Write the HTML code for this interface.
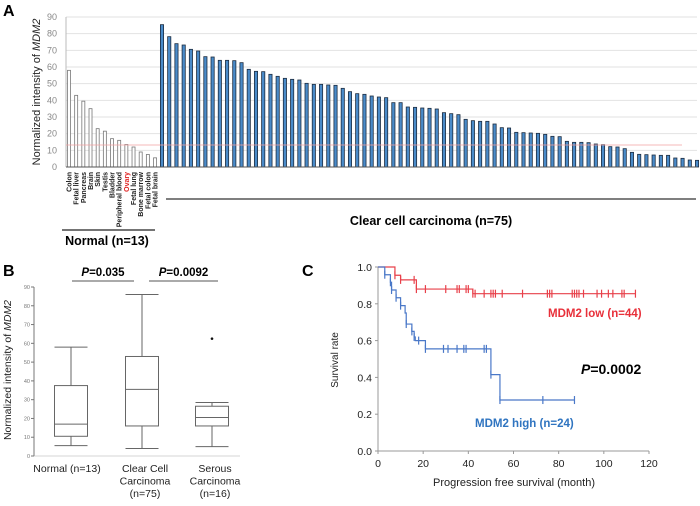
<!DOCTYPE html>
<html><head><meta charset="utf-8"><style>
body{margin:0;background:#fff}
svg{display:block;font-family:"Liberation Sans",Arial,sans-serif}
</style></head><body>
<svg width="700" height="506" viewBox="0 0 700 506">
<g id="pa"></g>
<g id="pb"></g>
<g id="pc"></g>
</svg>
<script>
const normalNames=["Colon","Fetal liver","Pancreas","Brain","Skin","Testis","Bladder","Peripheral blood","Ovary","Fetal lung","Bone marrow","Fetal colon","Fetal brain"];
const normalVals=[58,43,39.5,35,23,21.5,17,16,13.5,12,9,7.5,5.5];
const cccVals=[85.4,78.2,74,73.2,70.6,69.6,66.2,66,64,64,63.8,62.6,58.6,57.4,57.2,55.6,54.4,53.2,52.6,52.2,50.2,49.6,49.6,49.2,49,47.2,45.2,44,43.6,42.6,42,41.6,38.6,38.6,36,35.8,35.4,35.2,34.8,32.6,32,31.4,28.6,27.8,27.4,27.4,25.8,23.6,23.4,20.8,20.6,20.4,20.2,19.6,18.4,18.2,15.4,14.8,14.8,14.6,13.8,13.4,12.2,12,11,8.8,7.6,7.4,7.2,7,7,5.4,5.2,4.2,4];
const aTicks=[0,10,20,30,40,50,60,70,80,90];
const boxGroups=["Normal (n=13)","Clear Cell|Carcinoma|(n=75)","Serous|Carcinoma|(n=16)"];
const boxMin=[5.5,4,5],boxQ1=[10.5,16,16],boxMed=[17,35.5,20.5],boxQ3=[37.5,53,26.5],boxMax=[58,86,28.5];
const boxOutliers=[[],[],[62.5]];
const lowT=[0,7.5,10,17,42,114],lowS=[1,0.955,0.93,0.88,0.855,0.855];
const lowCens=[7.5,10,16,17,21,30,35,36,39,40,42,43,47,50,51,52,55,64,75,76,77,86,87,88,89,91,97,99,102,104,108,109,114];
const highT=[0,3,5.5,6,8,10,12,12.5,15,16,16.5,21,50,54,87],highS=[1,0.958,0.917,0.875,0.833,0.79,0.75,0.69,0.65,0.62,0.6,0.555,0.415,0.277,0.277];
const highCens=[3,5.5,6,8,10,12.5,15,16,18,21,29,31,35,38,39,47,48,50,54,73,87];
const cXTicks=[0,20,40,60,80,100,120],cYTicks=[0,0.2,0.4,0.6,0.8,1.0];
const NS="http://www.w3.org/2000/svg";
function mk(p,t,a,txt){const e=document.createElementNS(NS,t);for(const k in a)e.setAttribute(k,a[k]);if(txt!==undefined)e.textContent=txt;p.appendChild(e);return e;}
// Panel A
const pa=document.getElementById('pa');
const ay=v=>167-v*150/90;
let e=mk(pa,'text',{x:3,y:16,'font-size':16,'font-weight':'bold'},'A');

aTicks.forEach(t=>{
 if(t>0){e=mk(pa,'line',{x1:66,x2:697,y1:ay(t),y2:ay(t),stroke:'#e2e2e2','stroke-width':1});
 }
 e=mk(pa,'text',{x:57,y:ay(t)+3,'font-size':9,fill:'#888','text-anchor':'end'},t);
 
});
e=mk(pa,'line',{x1:66,x2:66,y1:17,y2:167,stroke:'#bbb'});
e=mk(pa,'text',{transform:'translate(40,92) rotate(-90)','font-size':11,'text-anchor':'middle',fill:'#222'});
e.innerHTML='Normalized intensity of <tspan font-style="italic">MDM2</tspan>';

normalVals.forEach((v,i)=>{const x=69+i*7.17;
 e=mk(pa,'rect',{x:x-1.5,y:ay(v),width:3,height:167-ay(v),fill:'#fff',stroke:'#777','stroke-width':0.8});
 
 e=mk(pa,'text',{transform:`translate(${x+2.5},172) rotate(-90)`,'font-size':7,'font-weight':'bold','text-anchor':'end',fill:normalNames[i]=='Ovary'?'#e02020':'#222'},normalNames[i]);
 
});
cccVals.forEach((v,i)=>{const x=162+i*7.23;
 e=mk(pa,'rect',{x:x-1.6,y:ay(v),width:3.2,height:167-ay(v),fill:'#4a8bc9',stroke:'#1c2c40','stroke-width':0.8});
 
});
e=mk(pa,'line',{x1:66,x2:697,y1:167,y2:167,stroke:'#555'});
e=mk(pa,'line',{x1:66,x2:682,y1:ay(13.2),y2:ay(13.2),stroke:'#f3a0a0','stroke-width':0.7});
e=mk(pa,'line',{x1:62,x2:155,y1:230,y2:230,stroke:'#222','stroke-width':1.2});
e=mk(pa,'text',{x:107,y:245,'font-size':12.5,'font-weight':'bold','text-anchor':'middle'},'Normal (n=13)');
e=mk(pa,'line',{x1:166,x2:696,y1:199,y2:199,stroke:'#555','stroke-width':1.5});
e=mk(pa,'text',{x:431,y:225,'font-size':12.5,'font-weight':'bold','text-anchor':'middle'},'Clear cell carcinoma (n=75)');
// Panel B
const pb=document.getElementById('pb');
const by=v=>456-v*169/90;
e=mk(pb,'text',{x:3,y:276,'font-size':16,'font-weight':'bold'},'B');
e=mk(pb,'line',{x1:34,x2:34,y1:by(90),y2:by(0),stroke:'#777'});
e=mk(pb,'line',{x1:34,x2:240,y1:by(0),y2:by(0),stroke:'#aaa','stroke-width':0.6});
aTicks.forEach(t=>{mk(pb,'line',{x1:31,x2:34,y1:by(t),y2:by(t),stroke:'#777'});
 e=mk(pb,'text',{x:30,y:by(t)+2,'font-size':5.5,fill:'#777','text-anchor':'end'},t);});
e=mk(pb,'text',{transform:'translate(11,370) rotate(-90)','font-size':10.5,'text-anchor':'middle',fill:'#222'});
e.innerHTML='Normalized intensity of <tspan font-style="italic">MDM2</tspan>';
const bx=[71,142,212];
boxGroups.forEach((g,i)=>{const x=bx[i],w=16.5;
 const grp=mk(pb,'g',{});
 mk(grp,'line',{x1:x,x2:x,y1:by(boxMax[i]),y2:by(boxQ3[i]),stroke:'#666'});
 mk(grp,'line',{x1:x,x2:x,y1:by(boxQ1[i]),y2:by(boxMin[i]),stroke:'#666'});
 mk(grp,'line',{x1:x-w,x2:x+w,y1:by(boxMax[i]),y2:by(boxMax[i]),stroke:'#666'});
 mk(grp,'line',{x1:x-w,x2:x+w,y1:by(boxMin[i]),y2:by(boxMin[i]),stroke:'#666'});
 mk(grp,'rect',{x:x-w,y:by(boxQ3[i]),width:2*w,height:by(boxQ1[i])-by(boxQ3[i]),fill:'#fff',stroke:'#666'});
 mk(grp,'line',{x1:x-w,x2:x+w,y1:by(boxMed[i]),y2:by(boxMed[i]),stroke:'#666'});
 boxOutliers[i].forEach(o=>mk(grp,'circle',{cx:x,cy:by(o),r:1.3,fill:'#111'}));
 g.split('|').forEach((l,j)=>{e=mk(pb,'text',{x:i==0?67:x+3,y:472+j*12.5,'font-size':10.5,'text-anchor':'middle',fill:'#222'},l);});
});
[[72,134,'0.035'],[149,218,'0.0092']].forEach(p=>{
 e=mk(pb,'line',{x1:p[0],x2:p[1],y1:281,y2:281,stroke:'#555'});
 e=mk(pb,'text',{x:(p[0]+p[1])/2,y:276,'font-size':11.5,'font-weight':'bold','text-anchor':'middle'});
 e.innerHTML='<tspan font-style="italic">P</tspan>='+p[2];});
// Panel C
const pc=document.getElementById('pc');
const cx=t=>378+t*271/120, cy=s=>451-s*184;
e=mk(pc,'text',{x:302,y:276,'font-size':16,'font-weight':'bold'},'C');
e=mk(pc,'line',{x1:378,x2:378,y1:cy(1),y2:cy(0),stroke:'#999'});
e=mk(pc,'line',{x1:378,x2:649,y1:cy(0),y2:cy(0),stroke:'#999'});
cYTicks.forEach(t=>{mk(pc,'line',{x1:375,x2:378,y1:cy(t),y2:cy(t),stroke:'#999'});
 e=mk(pc,'text',{x:372,y:cy(t)+4,'font-size':10.5,'text-anchor':'end',fill:'#222'},t.toFixed(1));});
cXTicks.forEach(t=>{mk(pc,'line',{x1:cx(t),x2:cx(t),y1:451,y2:454,stroke:'#999'});
 e=mk(pc,'text',{x:cx(t),y:467,'font-size':10.5,'text-anchor':'middle',fill:'#222'},t);});
e=mk(pc,'text',{x:514,y:486,'font-size':11,'text-anchor':'middle',fill:'#222'},'Progression free survival (month)');
e=mk(pc,'text',{transform:'translate(338,360) rotate(-90)','font-size':10,'text-anchor':'middle',fill:'#222'},'Survival rate');
function km(T,S,cens,col,name){let d=`M${cx(T[0])},${cy(S[0])}`;
 for(let i=1;i<T.length;i++){d+=`H${cx(T[i])}V${cy(S[i])}`;}
 e=mk(pc,'path',{d:d,fill:'none',stroke:col,'stroke-width':1.2});
 cens.forEach(c=>{let s=S[0];for(let i=0;i<T.length;i++)if(T[i]<=c)s=S[i];
  e=mk(pc,'line',{x1:cx(c),x2:cx(c),y1:cy(s)-4,y2:cy(s)+4,stroke:col,'stroke-width':1.2});});}
km(lowT,lowS,lowCens,'#e8404a','mdm2-low');
km(highT,highS,highCens,'#4a78c8','mdm2-high');
e=mk(pc,'text',{x:548,y:317,'font-size':11.5,'font-weight':'bold',fill:'#e8303a'},'MDM2 low (n=44)');
e=mk(pc,'text',{x:475,y:427,'font-size':11.5,'font-weight':'bold',fill:'#2f74c0'},'MDM2 high (n=24)');
e=mk(pc,'text',{x:581,y:374,'font-size':14,'font-weight':'bold'});e.innerHTML='<tspan font-style="italic">P</tspan>=0.0002';
</script>
</body></html>
